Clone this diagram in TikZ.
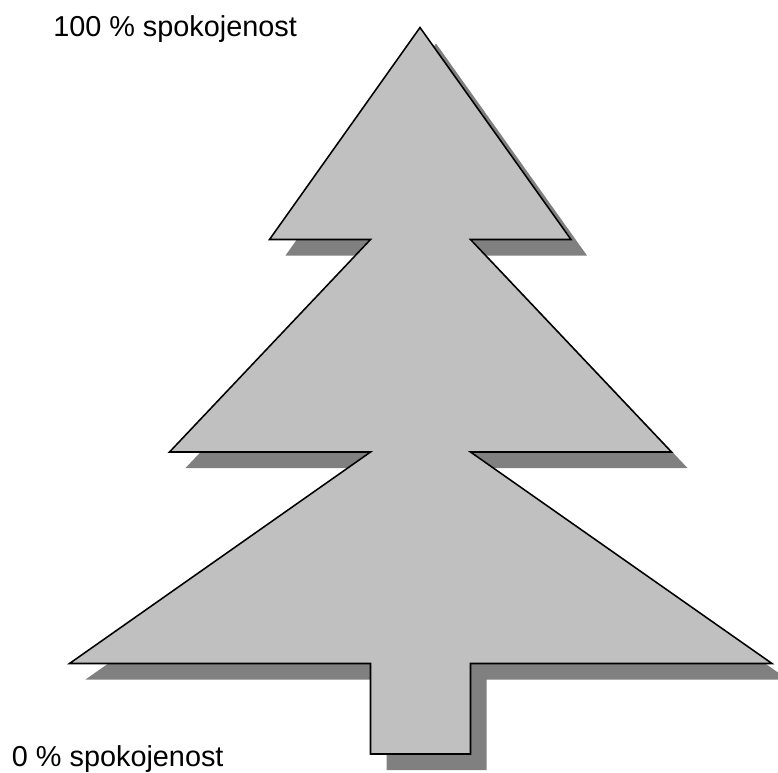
\documentclass[tikz,border=0pt]{standalone}
\usepackage{fontspec}
\setmainfont{Liberation Sans}
\usepackage{xcolor}
\usepackage{tikz}
\usetikzlibrary{positioning, calc}

\definecolor{treegray}{RGB}{192,192,192}
\definecolor{shadowgray}{RGB}{128,128,128}

% outline of the tree, in pixel units
\newcommand{\treeoutline}{(420,27.5) -- (571,239.5) -- (470.5,239.5) -- (671.5,452) -- (470.5,452)
    -- (772,663.5) -- (470.5,663.5) -- (470.5,754) -- (370.5,754) -- (370.5,663.5)
    -- (69.5,663.5) -- (370.5,452) -- (169.5,452) -- (370.5,239.5) -- (269.5,239.5) -- cycle}

\begin{document}
\begin{tikzpicture}[x=0.025cm, y=-0.025cm]

    \useasboundingbox (0,0) rectangle (778,772);

    % Shadow of the tree
    \begin{scope}[shift={(16,16)}]
        \fill[shadowgray] \treeoutline;
    \end{scope}

    % The tree itself
    \draw[fill=treegray, draw=black, line width=1.1pt, line join=miter] \treeoutline;

    % Labels
    \node[anchor=base west, inner sep=0pt, font=\fontsize{20.5}{24}\selectfont] (top) at (53,36.7) {100 \% spokojenost};
    \node[anchor=base west, inner sep=0pt, font=\fontsize{20.5}{24}\selectfont] (bottom) at (11.7,766) {0 \% spokojenost};

\end{tikzpicture}
\end{document}
